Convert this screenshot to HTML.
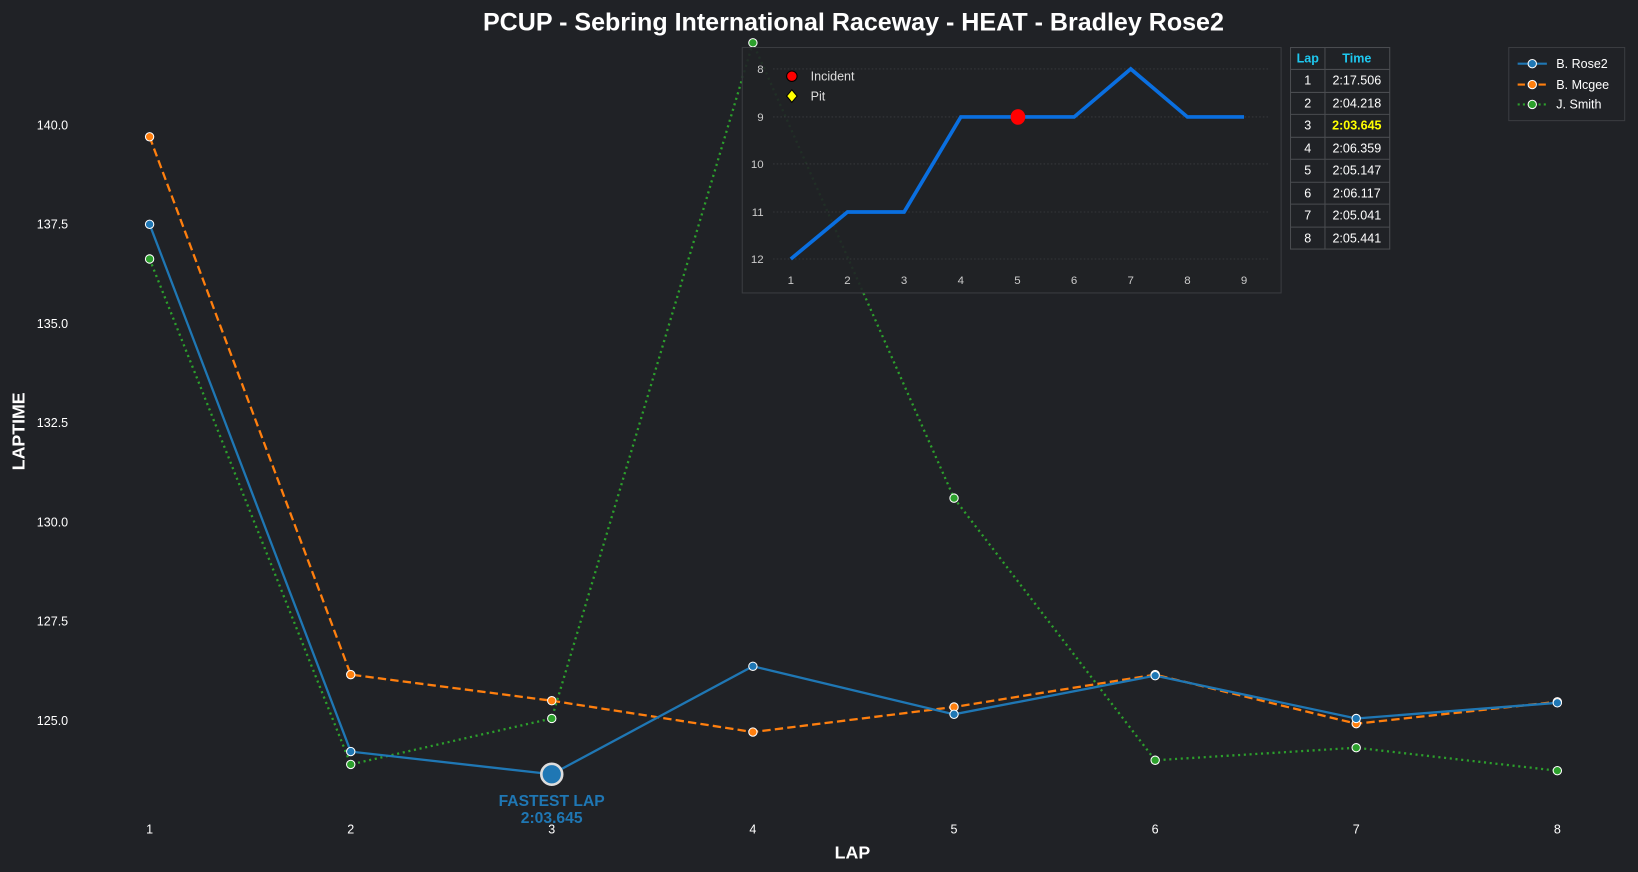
<!DOCTYPE html>
<html><head><meta charset="utf-8"><style>
html,body{margin:0;padding:0;background:#202226;}
svg{display:block;font-family:"Liberation Sans",Arial,sans-serif;}
</style></head><body>
<svg width="1638" height="872" viewBox="0 0 1568 835" xmlns="http://www.w3.org/2000/svg">
<rect width="1568" height="835" fill="#202226"/>
<text x="817" y="29" text-anchor="middle" fill="#fff" font-size="24" font-weight="bold">PCUP - Sebring International Raceway - HEAT - Bradley Rose2</text>
<g fill="#fff" font-size="12" text-anchor="end">
<text x="65" y="124">140.0</text><text x="65" y="219">137.5</text><text x="65" y="314">135.0</text>
<text x="65" y="409">132.5</text><text x="65" y="504">130.0</text><text x="65" y="599">127.5</text><text x="65" y="694">125.0</text>
</g>
<g fill="#fff" font-size="12" text-anchor="middle">
<text x="143" y="798">1</text><text x="335.6" y="798">2</text><text x="528.1" y="798">3</text><text x="720.7" y="798">4</text>
<text x="913.3" y="798">5</text><text x="1105.9" y="798">6</text><text x="1298.4" y="798">7</text><text x="1491" y="798">8</text>
</g>
<text x="816" y="822" text-anchor="middle" fill="#fff" font-size="17" font-weight="bold">LAP</text>
<text transform="translate(23,413) rotate(-90)" text-anchor="middle" fill="#fff" font-size="17" font-weight="bold">LAPTIME</text>

<polyline fill="none" stroke="#2ca02c" stroke-width="2.2" stroke-dasharray="2,3.5" points="143,248 335.6,732 528.1,688 720.7,41 913.3,477 1105.9,728 1298.4,716 1491,738"/>
<polyline fill="none" stroke="#ff7f0e" stroke-width="2.2" stroke-dasharray="8,4" points="143,131 335.6,646 528.1,671 720.7,701 913.3,677 1105.9,646 1298.4,693 1491,672"/>
<polyline fill="none" stroke="#1f77b4" stroke-width="2.2" points="143,214.8 335.6,719.7 528.1,741.4 720.7,638 913.3,684 1105.9,647 1298.4,688 1491,673"/>
<g stroke="#fff" stroke-width="1">
<g fill="#2ca02c"><circle cx="143" cy="248" r="4"/><circle cx="335.6" cy="732" r="4"/><circle cx="528.1" cy="688" r="4"/><circle cx="720.7" cy="41" r="4"/><circle cx="913.3" cy="477" r="4"/><circle cx="1105.9" cy="728" r="4"/><circle cx="1298.4" cy="716" r="4"/><circle cx="1491" cy="738" r="4"/></g>
<g fill="#ff7f0e"><circle cx="143" cy="131" r="4"/><circle cx="335.6" cy="646" r="4"/><circle cx="528.1" cy="671" r="4"/><circle cx="720.7" cy="701" r="4"/><circle cx="913.3" cy="677" r="4"/><circle cx="1105.9" cy="646" r="4"/><circle cx="1298.4" cy="693" r="4"/><circle cx="1491" cy="672" r="4"/></g>
<g fill="#1f77b4"><circle cx="143" cy="214.8" r="4"/><circle cx="335.6" cy="719.7" r="4"/><circle cx="720.7" cy="638" r="4"/><circle cx="913.3" cy="684" r="4"/><circle cx="1105.9" cy="647" r="4"/><circle cx="1298.4" cy="688" r="4"/><circle cx="1491" cy="673" r="4"/></g>
</g>
<circle cx="528.1" cy="741.4" r="10" fill="#1f77b4" stroke="#ddd" stroke-width="2.5"/>
<g fill="#1f77b4" font-size="15" font-weight="bold" text-anchor="middle">
<text x="528" y="772">FASTEST LAP</text><text x="528" y="788">2:03.645</text></g>

<!-- inset -->
<rect x="710.5" y="45.5" width="516" height="235" fill="#202226" fill-opacity="0.9" stroke="#3a3c40" stroke-width="1"/>
<g stroke="#3a3c40" stroke-width="0.8" stroke-dasharray="1.5,2">
<line x1="740" x2="1215" y1="66" y2="66"/><line x1="740" x2="1215" y1="112" y2="112"/><line x1="740" x2="1215" y1="157" y2="157"/><line x1="740" x2="1215" y1="203" y2="203"/><line x1="740" x2="1215" y1="248" y2="248"/></g>
<g fill="#ccc" font-size="11" text-anchor="end">
<text x="731" y="70">8</text><text x="731" y="116">9</text><text x="731" y="161">10</text><text x="731" y="207">11</text><text x="731" y="252">12</text></g>
<g fill="#ccc" font-size="11" text-anchor="middle">
<text x="757" y="272">1</text><text x="811.3" y="272">2</text><text x="865.5" y="272">3</text><text x="919.8" y="272">4</text><text x="974" y="272">5</text><text x="1028.3" y="272">6</text><text x="1082.5" y="272">7</text><text x="1136.8" y="272">8</text><text x="1191" y="272">9</text></g>
<polyline fill="none" stroke="#0a6fe0" stroke-width="3.5" stroke-linejoin="miter" points="757,248 811.3,203 865.5,203 919.8,112 974,112 1028.3,112 1082.5,66 1136.8,112 1191,112"/>
<ellipse cx="974.5" cy="112" rx="7" ry="7.5" fill="#ff0000"/>
<circle cx="758" cy="73" r="5" fill="#f00" stroke="#000" stroke-width="1"/>
<polygon points="758,86 763,92 758,98 753,92" fill="#ff0" stroke="#000" stroke-width="1"/>
<text x="776" y="77" fill="#ddd" font-size="12">Incident</text>
<text x="776" y="96" fill="#ddd" font-size="12">Pit</text>

<!-- table -->
<g stroke="#4a4c50" stroke-width="1" fill="none">
<rect x="1235.5" y="45.5" width="95" height="193"/>
<line x1="1268.5" x2="1268.5" y1="45.5" y2="238.5"/>
<line x1="1235.5" x2="1330.5" y1="66.5" y2="66.5"/><line x1="1235.5" x2="1330.5" y1="88.5" y2="88.5"/><line x1="1235.5" x2="1330.5" y1="109.5" y2="109.5"/><line x1="1235.5" x2="1330.5" y1="131.5" y2="131.5"/><line x1="1235.5" x2="1330.5" y1="152.5" y2="152.5"/><line x1="1235.5" x2="1330.5" y1="174.5" y2="174.5"/><line x1="1235.5" x2="1330.5" y1="195.5" y2="195.5"/><line x1="1235.5" x2="1330.5" y1="217.5" y2="217.5"/>
</g>
<g font-size="12" text-anchor="middle" fill="#fff">
<text x="1252" y="60" fill="#1ec8f0" font-weight="bold">Lap</text><text x="1299" y="60" fill="#1ec8f0" font-weight="bold">Time</text>
<text x="1252" y="81">1</text><text x="1299" y="81">2:17.506</text>
<text x="1252" y="103">2</text><text x="1299" y="103">2:04.218</text>
<text x="1252" y="124">3</text><text x="1299" y="124" fill="#ffff00" font-weight="bold">2:03.645</text>
<text x="1252" y="146">4</text><text x="1299" y="146">2:06.359</text>
<text x="1252" y="167">5</text><text x="1299" y="167">2:05.147</text>
<text x="1252" y="189">6</text><text x="1299" y="189">2:06.117</text>
<text x="1252" y="210">7</text><text x="1299" y="210">2:05.041</text>
<text x="1252" y="232">8</text><text x="1299" y="232">2:05.441</text>
</g>

<!-- legend -->
<rect x="1444.5" y="45.5" width="111" height="70" fill="#202226" stroke="#3a3c40"/>
<line x1="1453" x2="1481" y1="61" y2="61" stroke="#1f77b4" stroke-width="2"/><circle cx="1467" cy="61" r="4" fill="#1f77b4" stroke="#fff"/>
<line x1="1453" x2="1481" y1="81" y2="81" stroke="#ff7f0e" stroke-width="2" stroke-dasharray="7,3"/><circle cx="1467" cy="81" r="4" fill="#ff7f0e" stroke="#fff"/>
<line x1="1453" x2="1481" y1="100" y2="100" stroke="#2ca02c" stroke-width="2" stroke-dasharray="2,3"/><circle cx="1467" cy="100" r="4" fill="#2ca02c" stroke="#fff"/>
<g fill="#fff" font-size="12"><text x="1490" y="65">B. Rose2</text><text x="1490" y="85">B. Mcgee</text><text x="1490" y="104">J. Smith</text></g>
</svg>
</body></html>
